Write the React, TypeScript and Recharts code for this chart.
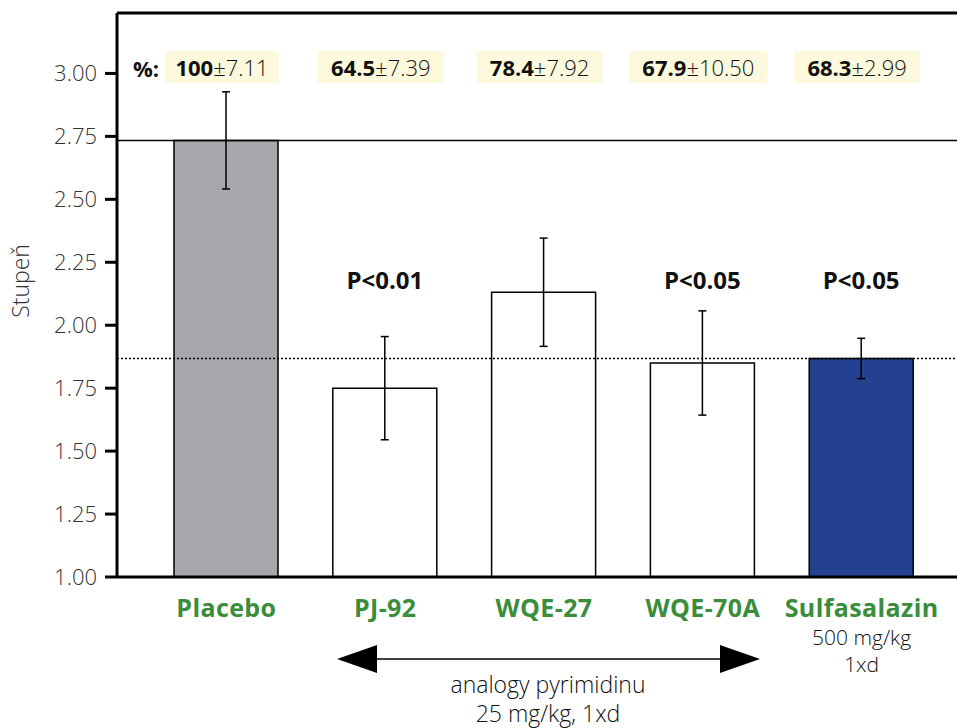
import React from 'react';
import { BarChart, Bar, XAxis, YAxis, Cell, ErrorBar, ReferenceLine, LabelList } from 'recharts';

// data
const categories = ['Placebo', 'PJ-92', 'WQE-27', 'WQE-70A', 'Sulfasalazin'];
const means = [2.734, 1.75, 2.131, 1.85, 1.868];
const errors = [0.193, 0.205, 0.215, 0.207, 0.08];
const pctMeans = ['100', '64.5', '78.4', '67.9', '68.3'];
const pctErrors = ['7.11', '7.39', '7.92', '10.50', '2.99'];
const pLabels = ['', 'P<0.01', '', 'P<0.05', 'P<0.05'];
const subLabels: string[][] = [[], [], [], [], ['500 mg/kg', '1xd']];
const yTicks = [1, 1.25, 1.5, 1.75, 2, 2.25, 2.5, 2.75, 3];
const yMax = 3.24;

const fills = ['#a7a8ab', '#ffffff', '#ffffff', '#ffffff', '#25408f'];
const GREEN = '#3a8d3b';
const FONT = '"Open Sans", "DejaVu Sans", sans-serif';

const data = categories.map((name, i) => ({ name, value: means[i], err: errors[i] }));

const XTick = ({ x, y, payload }: any) => {
  const i = categories.indexOf(payload.value);
  return (
    <g>
      <text x={x} y={y + 32} textAnchor="middle" fill={GREEN} fontWeight={700} fontSize={25} letterSpacing={0.4} fontFamily={FONT}>
        {payload.value}
      </text>
      {subLabels[i].map((s, k) => (
        <text key={k} x={x} y={y + 60 + k * 27} textAnchor="middle" fill="#111" fontWeight={300} fontSize={21} fontFamily={FONT}>
          {s}
        </text>
      ))}
    </g>
  );
};

const YTick = ({ x, y, payload }: any) => (
  <text x={x - 6} y={y + 8} textAnchor="end" fill="#333" fontWeight={300} fontSize={22} fontFamily={FONT}>
    {Number(payload.value).toFixed(2)}
  </text>
);

const PctLabel = ({ x, width, index }: any) => {
  const cx = x + width / 2 - 4;
  const txt = pctMeans[index] + '±' + pctErrors[index];
  const w = txt.length * 12.2 + 16;
  return (
    <g>
      <rect x={cx - w / 2} y={51} width={w} height={32} fill="#fdf9dc" />
      <text x={cx} y={76} textAnchor="middle" fontSize={22} fontFamily={FONT} fill="#111">
        <tspan fontWeight={700}>{pctMeans[index]}</tspan>
        <tspan fontWeight={300}>±{pctErrors[index]}</tspan>
      </text>
    </g>
  );
};

const PLabel = ({ x, width, index }: any) => {
  if (!pLabels[index]) return null;
  return (
    <text x={x + width / 2} y={289} textAnchor="middle" fontSize={24} fontWeight={700} fontFamily={FONT} fill="#111">
      {pLabels[index]}
    </text>
  );
};

export default function App() {
  return (
    <div style={{ position: 'absolute', left: 0, top: 0, width: 957, height: 728, background: '#fff' }}>
      <BarChart width={957} height={728} data={data} margin={{ top: 13, right: 0, left: 0, bottom: 121 }}>
        <YAxis
          width={117}
          domain={[1, yMax]}
          ticks={yTicks}
          allowDataOverflow
          axisLine={{ stroke: '#000', strokeWidth: 3 }}
          tickLine={{ stroke: '#000', strokeWidth: 3 }}
          tickSize={12}
          tick={<YTick />}
        />
        <XAxis
          dataKey="name"
          padding={{ left: 30, right: 16 }}
          axisLine={{ stroke: '#000', strokeWidth: 3 }}
          tickLine={false}
          tick={<XTick />}
          interval={0}
        />
        <ReferenceLine y={yMax} stroke="#000" strokeWidth={3} />
        <ReferenceLine y={means[0]} stroke="#000" strokeWidth={1.5} />
        <ReferenceLine y={means[4]} stroke="#000" strokeWidth={1.5} strokeDasharray="2 2" />
        <Bar dataKey="value" barSize={104} stroke="#000" strokeWidth={1.5} isAnimationActive={false}>
          {data.map((d, i) => (
            <Cell key={d.name} fill={fills[i]} />
          ))}
          <ErrorBar dataKey="err" width={4} stroke="#000" strokeWidth={1.5} isAnimationActive={false} />
          <LabelList dataKey="name" content={<PctLabel />} />
          <LabelList dataKey="name" content={<PLabel />} />
        </Bar>
        <text x={133} y={77} fontSize={22} fontWeight={700} fontFamily={FONT} fill="#111">%:</text>
      </BarChart>
      <svg width={957} height={728} style={{ position: 'absolute', left: 0, top: 0, pointerEvents: 'none' }}>
        <text x={0} y={0} transform="translate(29,281) rotate(-90)" textAnchor="middle" fontSize={23} fontWeight={300} fontFamily={FONT} fill="#333">Stupeň</text>
        <line x1={370} y1={659} x2={725} y2={659} stroke="#000" strokeWidth={1.5} />
        <polygon points="337,659 377,645 377,673" fill="#000" />
        <polygon points="760,659 720,645 720,673" fill="#000" />
        <text x={548} y={693} textAnchor="middle" fontSize={23} fontWeight={300} fontFamily={FONT} fill="#111">analogy pyrimidinu</text>
        <text x={548} y={722} textAnchor="middle" fontSize={23} fontWeight={300} fontFamily={FONT} fill="#111">25 mg/kg, 1xd</text>
      </svg>
    </div>
  );
}
